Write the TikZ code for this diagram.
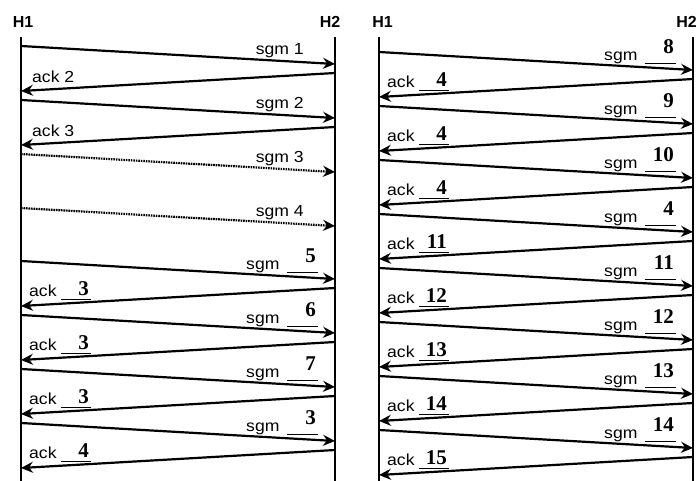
\documentclass[tikz,border=0pt]{standalone}
\usepackage{fontspec}
\setmainfont{Liberation Sans}
\newfontfamily\labfont[FakeStretch=1.1]{Liberation Sans}
\newfontfamily\numfont{Liberation Serif}
\usetikzlibrary{arrows.meta}
\tikzset{
  life/.style={line width=2.4pt},
  msg/.style={line width=2.2pt, -{Stealth[length=12pt,width=11pt,inset=4pt]}},
  lostmsg/.style={msg, dash pattern=on 1.6pt off 0.9pt},
  headlab/.style={font=\bfseries\fontsize{16}{19}\selectfont, inner sep=0pt},
  lab/.style={font=\labfont\fontsize{16}{19}\selectfont, inner sep=0pt},
  num/.style={font=\numfont\bfseries\fontsize{21}{25}\selectfont, inner sep=0pt},
  blank/.style={line width=0.9pt},
}
\begin{document}
\begin{tikzpicture}[x=1pt,y=-1pt]
\useasboundingbox (0,0) rectangle (697,480);
% lifelines
\foreach \p/\xx in {La/21, Lb/335, Ra/379, Rb/693}{
  \coordinate (\p top) at (\xx,37);
  \coordinate (\p bot) at (\xx,481);
  \draw[life] (\p top) -- (\p bot);
}
\node[headlab] (hLa) at (23,21.5) {H1};
\node[headlab] (hLb) at (330,21.5) {H2};
\node[headlab] (hRa) at (382.5,21.5) {H1};
\node[headlab, anchor=east] (hRb) at (697,21.5) {H2};
% plain sgm
\foreach \k/\xa/\xb/\y/\n in {1/21/335/46/1, 2/21/335/100/2}{
  \coordinate (sp\k a) at (\xa,\y);
  \coordinate (sp\k b) at (\xb,\y+18);
  \draw[msg] (sp\k a) -- (sp\k b);
  \node[lab, anchor=base east] (spl\k) at (\xb-31,\y+8.5) {sgm \n};
}
% lost sgm
\foreach \k/\xa/\xb/\y/\n in {3/21/335/154/3, 4/21/335/208/4}{
  \coordinate (sd\k a) at (\xa,\y);
  \coordinate (sd\k b) at (\xb,\y+18);
  \draw[lostmsg] (sd\k a) -- (sd\k b);
  \node[lab, anchor=base east] (sdl\k) at (\xb-31,\y+8.5) {sgm \n};
}
% plain ack
\foreach \k/\xa/\xb/\y/\n in {1/21/335/73/2, 2/21/335/127/3}{
  \coordinate (ap\k a) at (\xb,\y);
  \coordinate (ap\k b) at (\xa,\y+18);
  \draw[msg] (ap\k a) -- (ap\k b);
  \node[lab, anchor=base west] (apl\k) at (\xa+11,\y+9) {ack \n};
}
% filled sgm
\foreach \k/\xa/\xb/\y/\n in {1/21/335/261/5, 2/21/335/315/6, 3/21/335/369/7, 4/21/335/423/3,
  5/379/693/52/8, 6/379/693/106/9, 7/379/693/160/10, 8/379/693/214/4,
  9/379/693/268/11, 10/379/693/322/12, 11/379/693/376/13, 12/379/693/430/14}{
  \coordinate (sf\k a) at (\xa,\y);
  \coordinate (sf\k b) at (\xb,\y+18);
  \draw[msg] (sf\k a) -- (sf\k b);
  \node[lab, anchor=base west] (sfl\k) at (\xb-89,\y+8) {sgm};
  \coordinate (sfu\k a) at (\xb-48,\y+11);
  \coordinate (sfu\k b) at (\xb-17,\y+11);
  \draw[blank] (sfu\k a) -- (sfu\k b);
  \node[num, anchor=base east] (sfn\k) at (\xb-19,\y+1) {\n};
}
% filled ack
\foreach \k/\xa/\xb/\y/\n in {1/21/335/288/3, 2/21/335/342/3, 3/21/335/396/3, 4/21/335/450/4,
  5/379/693/79/4, 6/379/693/133/4, 7/379/693/187/4, 8/379/693/241/11,
  9/379/693/295/12, 10/379/693/349/13, 11/379/693/403/14, 12/379/693/457/15}{
  \coordinate (af\k a) at (\xb,\y);
  \coordinate (af\k b) at (\xa,\y+18);
  \draw[msg] (af\k a) -- (af\k b);
  \node[lab, anchor=base west] (afl\k) at (\xa+8,\y+8.5) {ack};
  \coordinate (afu\k a) at (\xa+40,\y+11);
  \coordinate (afu\k b) at (\xa+70,\y+11);
  \draw[blank] (afu\k a) -- (afu\k b);
  \node[num, anchor=base east] (afn\k) at (\xa+68,\y+7) {\n};
}
\end{tikzpicture}
\end{document}
